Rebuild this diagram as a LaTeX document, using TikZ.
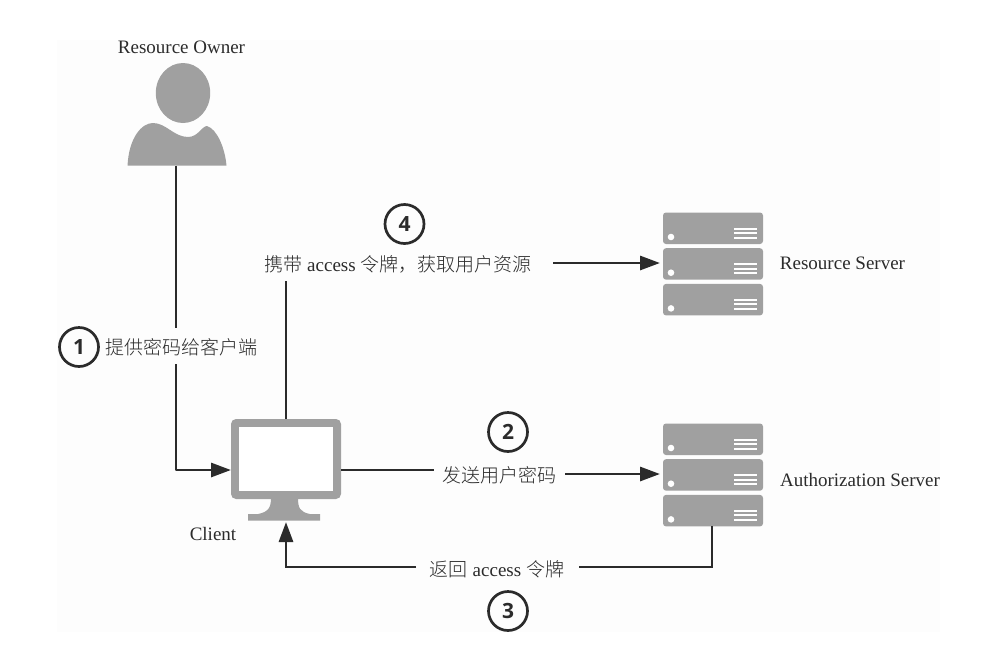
\documentclass[tikz,border=0pt]{standalone}
\usepackage{fontspec}
\setmainfont{Liberation Serif}
\newfontfamily\cjk{Noto Sans CJK SC Light}
\newfontfamily\numfont{Open Sans}
\usetikzlibrary{arrows.meta}
\definecolor{icon}{HTML}{A0A0A0}
\definecolor{ink}{HTML}{2B2B2B}
\definecolor{paper}{HTML}{FDFDFD}
\tikzset{
  px/.style={x=1pt,y=-1pt},
  flow/.style={draw=ink,line width=2.9pt},
  arrowed/.style={flow,-{Triangle[length=20pt,width=14pt]}},
  lbl/.style={font=\fontsize{19pt}{21pt}\selectfont,text=ink,inner sep=1pt},
  num/.style={circle,draw=ink,line width=2.7pt,minimum size=39pt,inner sep=0pt,font=\numfont\bfseries\fontsize{21pt}{21pt}\selectfont,text=ink},
  blade/.style={fill=icon,rounded corners=3pt}
}
\newcommand{\serverstack}[2]{%
  \begin{scope}[shift={(#1,#2)}]
    \foreach \yy in {0,35.7,71.4}{
      \fill[blade] (0,\yy) rectangle (100,\yy+31.5);
      \fill[white] (8,\yy+24.5) circle (3.3);
      \foreach \dd in {16,20.5,25}
        \fill[white] (71,\yy+\dd-1) rectangle (94,\yy+\dd+1);
    }
  \end{scope}}
\begin{document}
\begin{tikzpicture}[px]
\useasboundingbox (0,0) rectangle (1006,646);
\fill[white] (0,0) rectangle (1006,646);
\fill[paper] (57,40) rectangle (940,632);
% person
\fill[icon] (183,93) ellipse (27.2 and 30);
\fill[icon] (127.5,165.7) .. controls (129,137) and (142,123) .. (153,123)
  .. controls (166,123) and (174,137) .. (188,137)
  .. controls (198,137) and (202,126) .. (207,126)
  .. controls (217,129) and (225,148) .. (226.5,165.7) -- cycle;
\coordinate (owner) at (176,165.5);
% monitor
\fill[icon,rounded corners=5pt] (231,419) rectangle (341,499);
\fill[white] (239,427) rectangle (333,491);
\fill[icon] (271,498) .. controls (271,508) and (268,512) .. (258,514)
  -- (248,514) -- (248,520.5) -- (320,520.5) -- (320,514) -- (310,514)
  .. controls (300,512) and (298,508) .. (298,498) -- cycle;
\coordinate (clientL) at (231,470);
\coordinate (clientR) at (341,470);
\coordinate (clientT) at (286,419);
\coordinate (clientB) at (286,522);
\serverstack{663}{212.5}
\serverstack{663}{423.5}
\coordinate (rsL) at (660,263);
\coordinate (asL) at (660,474);
\coordinate (asB) at (712,526);
% labels
\node[lbl] (ro) at (181.5,47) {Resource Owner};
\node[lbl] (rs) at (842.5,263.5) {Resource Server};
\node[lbl] (as) at (860,480) {Authorization Server};
\node[lbl] (cl) at (213,533.5) {Client};
\node[lbl] (t1) at (181.5,347) {\cjk 提供密码给客户端};
\node[lbl] (t4) at (398,264) {{\cjk 携带} access {\cjk 令牌，获取用户资源}};
\node[lbl] (t2) at (499,475) {\cjk 发送用户密码};
\node[lbl] (t3) at (497,569) {{\cjk 返回} access {\cjk 令牌}};
\node[num] (n1) at (79,347) {1};
\node[num] (n2) at (508,432) {2};
\node[num] (n3) at (508,611) {3};
\node[num] (n4) at (404.5,224) {4};
% connectors
\coordinate (a1) at (176,328);
\coordinate (a2) at (176,364);
\draw[flow] (owner) -- (a1);
\draw[arrowed,line join=round] (a2) |- (clientL);
\coordinate (b1) at (286,281);
\draw[flow] (clientT) -- (b1);
\coordinate (b2) at (553,263);
\draw[arrowed] (b2) -- (rsL);
\coordinate (c1) at (434,470);
\draw[flow] (clientR) -- (c1);
\coordinate (c2) at (565,474);
\draw[arrowed] (c2) -- (asL);
\coordinate (d1) at (416,567);
\draw[arrowed] (d1) -| (clientB);
\coordinate (d2) at (579,567);
\draw[flow] (asB) |- (d2);
\end{tikzpicture}
\end{document}
